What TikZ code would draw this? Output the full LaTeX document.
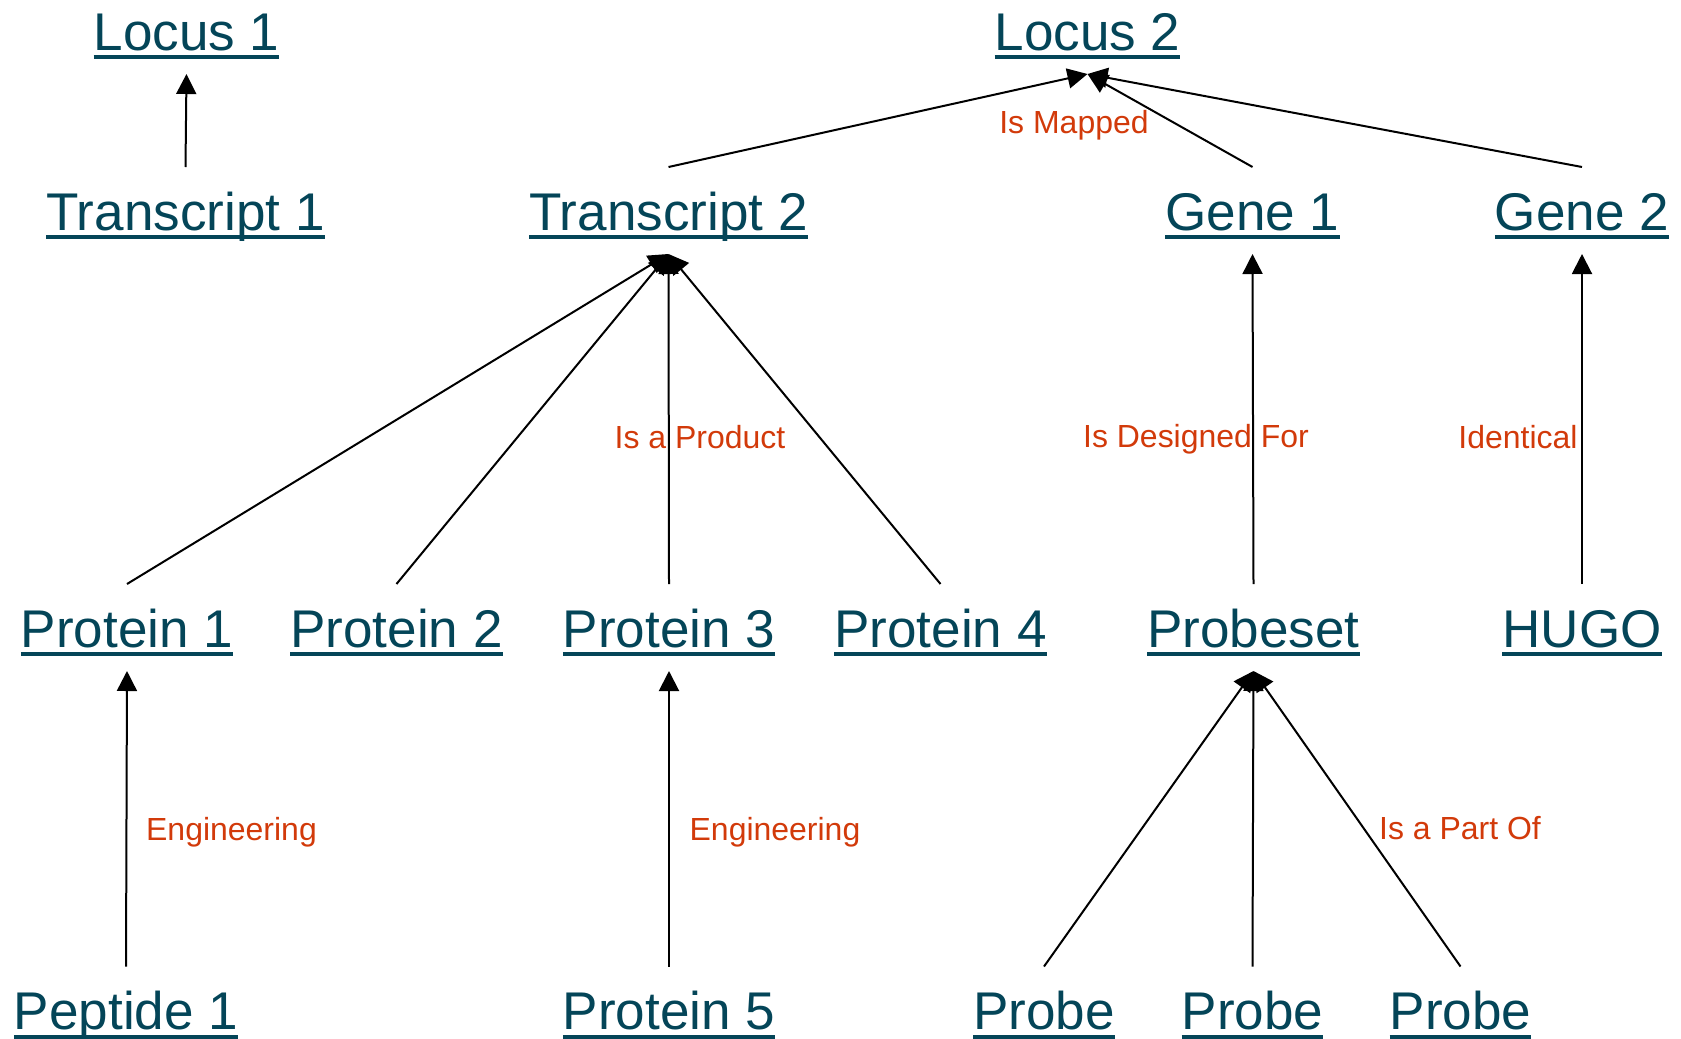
\documentclass[tikz,border=0pt]{standalone}
\usepackage{fontspec}
\setmainfont{Liberation Sans}
\usepackage{tikz}
\usetikzlibrary{arrows.meta}
\definecolor{linkc}{RGB}{4,69,88}
\definecolor{relc}{RGB}{210,58,10}
% underlined entry, rule at a fixed depth below the baseline
\newcommand{\lnk}[1]{\setbox0=\hbox{#1}\rlap{\rule[-0.175em]{\wd0}{0.075em}}\box0}

\begin{document}
\begin{tikzpicture}[
    ent/.style={inner sep=0pt, outer sep=0pt, text height=1.26cm, text depth=0.48cm,
        anchor=base, text=linkc, font=\fontsize{30.2}{36}\selectfont},
    leaf/.style={ent, text depth=0.19cm},
    rel/.style={inner sep=0pt, anchor=base, text=relc, font=\fontsize{18.2}{22}\selectfont},
    arrow/.style={-{Triangle[length=0.4cm, width=0.4cm]}, line width=0.04cm}
]
\useasboundingbox (0,0) rectangle (33.62,-20.78);

% Loci
\node[ent] (loc1) at (3.73, -1.0) {\lnk{Locus 1}};
\node[ent] (loc2) at (21.75, -1.0) {\lnk{Locus 2}};

% Transcripts and genes
\node[ent] (tr1) at (3.71, -4.6) {\lnk{Transcript 1}};
\node[ent] (tr2) at (13.37, -4.6) {\lnk{Transcript 2}};
\node[ent] (gene1) at (25.05, -4.6) {\lnk{Gene 1}};
\node[ent] (gene2) at (31.64, -4.6) {\lnk{Gene 2}};

% Proteins, probeset, HUGO
\node[ent] (prot1) at (2.54, -12.94) {\lnk{Protein 1}};
\node[ent] (prot2) at (7.93, -12.94) {\lnk{Protein 2}};
\node[ent] (prot3) at (13.38, -12.94) {\lnk{Protein 3}};
\node[ent] (prot4) at (18.81, -12.94) {\lnk{Protein 4}};
\node[ent] (pset) at (25.07, -12.94) {\lnk{Probeset}};
\node[ent] (hugo) at (31.64, -12.94) {\lnk{HUGO}};

% Bottom row
\node[leaf] (pep1) at (2.52, -20.59) {\lnk{Peptide 1}};
\node[leaf] (prot5) at (13.38, -20.59) {\lnk{Protein 5}};
\node[leaf] (probe1) at (20.88, -20.59) {\lnk{Probe}};
\node[leaf] (probe2) at (25.05, -20.59) {\lnk{Probe}};
\node[leaf] (probe3) at (29.21, -20.59) {\lnk{Probe}};

% Relations
\draw[arrow] (tr1.north) -- (loc1.south);
\draw[arrow] (tr2.north) -- (loc2.south);
\draw[arrow] (gene1.north) -- (loc2.south);
\draw[arrow] (gene2.north) -- (loc2.south);

\draw[arrow] (prot1.north) -- (tr2.south);
\draw[arrow] (prot2.north) -- (tr2.south);
\draw[arrow] (prot3.north) -- (tr2.south);
\draw[arrow] (prot4.north) -- (tr2.south);
\draw[arrow] (pset.north) -- (gene1.south);
\draw[arrow] (hugo.north) -- (gene2.south);

\draw[arrow] (pep1.north) -- (prot1.south);
\draw[arrow] (prot5.north) -- (prot3.south);
\draw[arrow] (probe1.north) -- (pset.south);
\draw[arrow] (probe2.north) -- (pset.south);
\draw[arrow] (probe3.north) -- (pset.south);

% Relation names
\node[rel] (mapped) at (21.48, -2.66) {Is Mapped};
\node[rel] (product) at (14.0, -8.96) {Is a Product};
\node[rel] (designed) at (23.92, -8.94) {Is Designed For};
\node[rel] (identical) at (30.36, -8.96) {Identical};
\node[rel] (eng1) at (4.63, -16.8) {Engineering};
\node[rel] (eng2) at (15.5, -16.8) {Engineering};
\node[rel] (partof) at (29.2, -16.79) {Is a Part Of};
\end{tikzpicture}
\end{document}
